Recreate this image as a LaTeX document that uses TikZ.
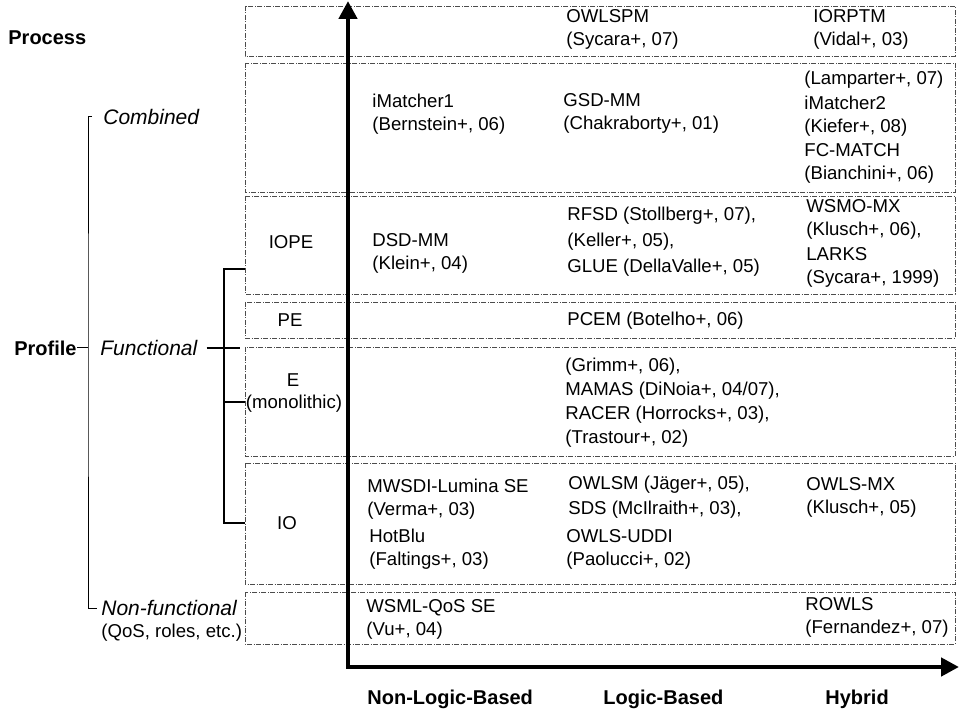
\documentclass[tikz,border=0pt]{standalone}
\usepackage{fontspec}
\setmainfont{Liberation Sans}
\usetikzlibrary{arrows.meta}

\begin{document}
\begin{tikzpicture}[x=0.5pt, y=-0.5pt,
            cell/.style={draw=black!70, line width=0.4pt, dash pattern=on 2.5pt off 0.75pt on 0.5pt off 0.75pt},
            entry/.style={anchor=west, align=left, inner sep=0pt, font=\fontsize{9.3}{11.5}\selectfont},
            rowname/.style={inner sep=0pt, font=\fontsize{9.3}{11.5}\selectfont},
            kind/.style={anchor=west, inner sep=0pt, font=\fontsize{10.5}{12}\selectfont\itshape},
            heading/.style={inner sep=0pt, font=\fontsize{10}{12}\selectfont\bfseries},
            axis/.style={line width=2.3pt, miter limit=4},
            brace/.style={line width=1.3pt},
            thinbrace/.style={line width=0.5pt},]

        \useasboundingbox (0,0) rectangle (959,711);

        % Rows
        \foreach \ya/\yb in {6/56, 63/192, 196/294, 302/338, 347/456, 463/584, 592/644}
            \draw[cell] (245,\ya) rectangle (955,\yb);

        % Axes
        \coordinate (origem) at (348,667);
        \coordinate (ytip)   at (348,1);
        \coordinate (xtip)   at (959,667);
        \draw[axis, {Triangle[length=9pt, width=9pt]}-{Triangle[length=9pt, width=9pt]}]
            (ytip) -- (origem) -- (xtip);

        % Nodes esquerda
        \node[heading, anchor=west] (process)    at (8,38)    {Process};
        \node[heading, anchor=east] (profile)    at (77,348)  {Profile};
        \node[kind]                 (combined)   at (103,117) {Combined};
        \node[kind]                 (functional) at (100,348) {Functional};
        \node[kind]                 (nonfunc)    at (101,608) {Non-functional};
        \node[rowname, anchor=west] (qos)        at (101,633) {(QoS, roles, etc.)};

        \node[rowname] (iope) at (291,242) {IOPE};
        \node[rowname] (pe)   at (290,320) {PE};
        \node[rowname] (e)    at (293,380) {E};
        \node[rowname] (mono) at (294,404) {(monolithic)};
        \node[rowname] (io)   at (287,523) {IO};

        % Brackets
        \coordinate (spine) at (88,348);
        \draw[thinbrace] (profile.east) -- (spine);
        \draw[thinbrace] ([xshift=-5.5pt]combined.west) -| (spine) |- ([xshift=-2pt]nonfunc.west);
        \draw[brace] (245,269) -| (224,523) -- (245,523);
        \draw[brace] (224,402) -- (245,402);
        \draw[brace] ([xshift=4.5pt]functional.east) -- ++(33,0);

        % Process
        \node[entry] (owlspm) at (566,29.5) {OWLSPM\\(Sycara+, 07)};
        \node[entry] (iorptm) at (813,29.5) {IORPTM\\(Vidal+, 03)};

        % Combined
        \node[entry] (imatcher1) at (372,114.5) {iMatcher1\\(Bernstein+, 06)};
        \node[entry] (gsdmm)     at (563,113.5) {GSD-MM\\(Chakraborty+, 01)};
        \node[entry] (lamparter) at (804,80)    {(Lamparter+, 07)};
        \node[entry] (imatcher2) at (804,116)   {iMatcher2\\(Kiefer+, 08)};
        \node[entry] (fcmatch)   at (804,163.5) {FC-MATCH\\(Bianchini+, 06)};

        % IOPE
        \node[entry] (dsdmm) at (372,253) {DSD-MM\\(Klein+, 04)};
        \node[entry, font=\fontsize{9.3}{13}\selectfont] (rfsd) at (567,242)
            {RFSD (Stollberg+, 07),\\(Keller+, 05),\\GLUE (DellaValle+, 05)};
        \node[entry] (wsmomx) at (806,219.5) {WSMO-MX\\(Klusch+, 06),};
        \node[entry] (larks)  at (806,267.5) {LARKS\\(Sycara+, 1999)};

        % PE
        \node[entry] (pcem) at (567,321) {PCEM (Botelho+, 06)};

        % E
        \node[entry, font=\fontsize{9.3}{12}\selectfont] (grimm) at (565,403)
            {(Grimm+, 06),\\MAMAS (DiNoia+, 04/07),\\RACER (Horrocks+, 03),\\(Trastour+, 02)};

        % IO
        \node[entry] (mwsdi)  at (367,499) {MWSDI-Lumina SE\\(Verma+, 03)};
        \node[entry] (hotblu) at (369,549) {HotBlu\\(Faltings+, 03)};
        \node[entry, font=\fontsize{9.3}{12.5}\selectfont] (owlsm) at (568,497.5)
            {OWLSM (Jäger+, 05),\\SDS (McIlraith+, 03),};
        \node[entry] (owlsuddi) at (566,549.5) {OWLS-UDDI\\(Paolucci+, 02)};
        \node[entry] (owlsmx)   at (806,497.5) {OWLS-MX\\(Klusch+, 05)};

        % Non-functional
        \node[entry] (wsmlqos) at (366,619.5) {WSML-QoS SE\\(Vu+, 04)};
        \node[entry] (rowls)   at (805,617)   {ROWLS\\(Fernandez+, 07)};

        % Eixo x
        \node[heading, anchor=base west] (nonlogic) at (367,704) {Non-Logic-Based};
        \node[heading, anchor=base west] (logic)    at (603,704) {Logic-Based};
        \node[heading, anchor=base west] (hybrid)   at (825,704) {Hybrid};
    \end{tikzpicture}
\end{document}
